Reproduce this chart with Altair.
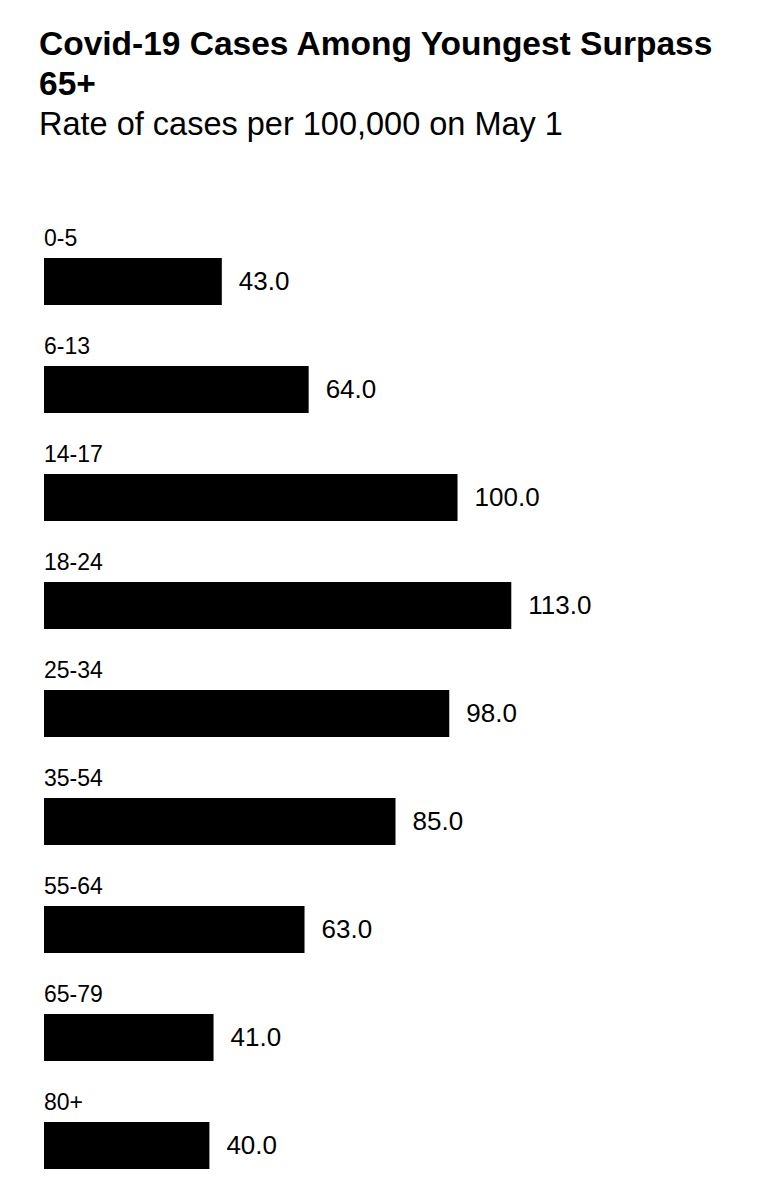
import altair as alt
import pandas as pd

groups = ["0-5", "6-13", "14-17", "18-24", "25-34", "35-54", "55-64", "65-79", "80+"]
rates = [43.0, 64.0, 100.0, 113.0, 98.0, 85.0, 63.0, 41.0, 40.0]

df = pd.DataFrame({"group": groups, "rate": rates})

FONT = "Liberation Sans"

y_enc = alt.Y("group:N", sort=groups, axis=None,
              scale=alt.Scale(paddingInner=0, paddingOuter=0))
x_scale = alt.Scale(domain=[0, 170], nice=False, zero=True)

base = alt.Chart(df)

bars = base.mark_bar(color="#000000", height=47, yOffset=27.5).encode(
    x=alt.X("rate:Q", scale=x_scale, axis=None),
    y=y_enc,
)

cat_labels = base.mark_text(
    align="left", baseline="middle", dy=-15, font=FONT, fontSize=23, color="#000000"
).encode(
    x=alt.value(0),
    y=y_enc,
    text="group:N",
)

val_labels = base.mark_text(
    align="left", baseline="middle", dx=17, dy=28, font=FONT, fontSize=26, color="#000000"
).encode(
    x=alt.X("rate:Q", scale=x_scale, axis=None),
    y=y_enc,
    text=alt.Text("rate:Q", format=".1f"),
)

chart = alt.layer(bars, cat_labels, val_labels).properties(
    width=703,
    height=972,
    background="#ffffff",
    padding={"left": 31, "right": 10, "top": 20, "bottom": 0},
    title=alt.TitleParams(
        text=["Covid-19 Cases Among Youngest Surpass", "65+"],
        subtitle="Rate of cases per 100,000 on May 1",
        anchor="start",
        dx=-5,
        font=FONT,
        fontSize=33.5,
        fontWeight="bold",
        lineHeight=40,
        color="#000000",
        subtitleFont=FONT,
        subtitleFontSize=32.5,
        subtitleColor="#000000",
        subtitlePadding=6,
        offset=58,
    ),
).configure_view(stroke="transparent", strokeWidth=0)

chart.save("out.html", embed_options={"renderer": "svg", "actions": False})
